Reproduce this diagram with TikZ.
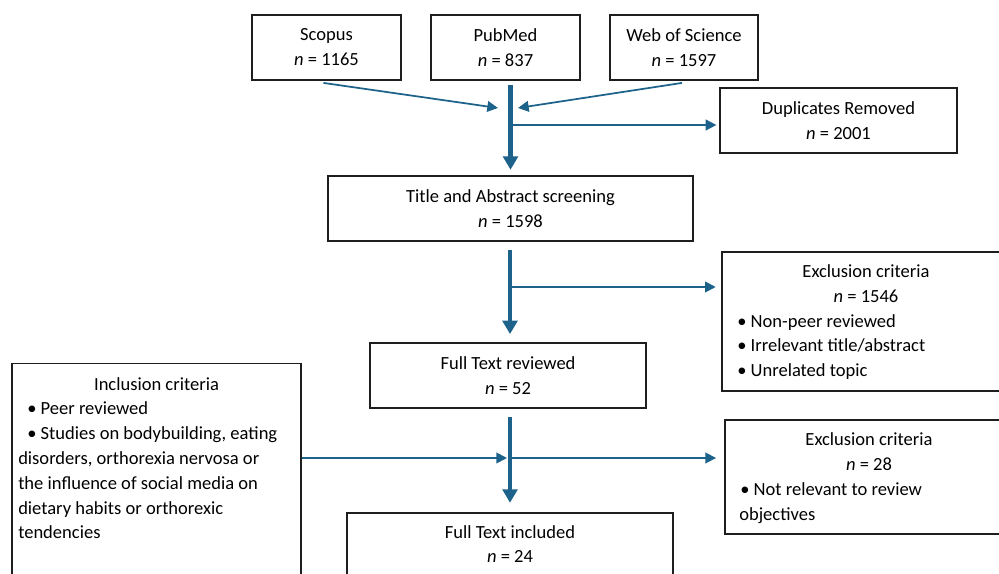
\documentclass[tikz,border=0pt]{standalone}
\usepackage{fontspec}
\setmainfont{Carlito}
\usetikzlibrary{arrows.meta}
\definecolor{arrcol}{RGB}{28,98,138}
\definecolor{boxcol}{RGB}{30,30,30}
\newcommand\figfont{\fontsize{13.9pt}{18.75pt}\selectfont}
\begin{document}
\begin{tikzpicture}[x=0.75pt,y=-0.75pt,
  box/.style 2 args={draw=boxcol, line width=1.4pt, inner sep=0pt, align=center,
    font=\figfont, minimum width={#1*0.75pt}, minimum height={#2*0.75pt}},
  txt/.style={inner sep=0pt, font=\figfont, yshift=-1.8pt},
  thinarrow/.style={draw=arrcol, line width=1.3pt, -{Triangle[length=8pt,width=8pt]}, arrcol},
  thickarrow/.style={draw=arrcol, line width=3.2pt, -{Triangle[length=10pt,width=11pt]}, arrcol}
]
\useasboundingbox (0,0) rectangle (999,574);
\clip (0,0) rectangle (999,574);

% boxes
\node[box={149}{65}] (scopus) at (326.5,47.5) {Scopus\\\textit{n} = 1165};
\node[box={149}{65}] (pubmed) at (505.5,47.5) {PubMed\\\textit{n} = 837};
\node[box={148}{65}] (wos) at (684,47.5) {Web of Science\\\textit{n} = 1597};
\node[box={237}{65}] (dup) at (838.5,120.5) {Duplicates Removed\\\textit{n} = 2001};
\node[box={365}{65}] (title) at (510.5,208.5) {Title and Abstract screening\\\textit{n} = 1598};
\node[box={276}{65}] (ftr) at (508,375.5) {Full Text reviewed\\\textit{n} = 52};
\node[box={288}{139}] (excl1) at (866,321.5) {};
\node[box={288}{114}] (excl2) at (869,477) {};
\node[box={289}{236}] (incl) at (156.5,481.5) {};
\node[box={326}{87}] (fti) at (510,556.5) {};

% texts of the open boxes
\node[txt, anchor=mid] (e1a) at (866,272) {Exclusion criteria};
\node[txt, anchor=mid] (e1b) at (866,297) {\textit{n} = 1546};
\node[txt, anchor=mid west] (e1c) at (737,322) {• Non-peer reviewed};
\node[txt, anchor=mid west] (e1d) at (737,346) {• Irrelevant title/abstract};
\node[txt, anchor=mid west] (e1e) at (737,371) {• Unrelated topic};

\node[txt, anchor=mid] (e2a) at (869,440) {Exclusion criteria};
\node[txt, anchor=mid] (e2b) at (869,465) {\textit{n} = 28};
\node[txt, anchor=mid west] (e2c) at (740,490) {• Not relevant to review};
\node[txt, anchor=mid west] (e2d) at (739,515) {objectives};

\node[txt, anchor=mid] (i1) at (156.5,385) {Inclusion criteria};
\node[txt, anchor=mid west] (i2) at (27,409) {• Peer reviewed};
\node[txt, anchor=mid west] (i3) at (27,434) {• Studies on bodybuilding, eating};
\node[txt, anchor=mid west] (i4) at (18,459) {disorders, orthorexia nervosa or};
\node[txt, anchor=mid west] (i5) at (18,484) {the influence of social media on};
\node[txt, anchor=mid west] (i6) at (18,509) {dietary habits or orthorexic};
\node[txt, anchor=mid west] (i7) at (18,533) {tendencies};

\node[txt, anchor=mid] (f1) at (510,533) {Full Text included};
\node[txt, anchor=mid] (f2) at (510,557) {\textit{n} = 24};

% junction coordinates
\coordinate (s1) at (510.5,85);
\coordinate (m1) at (498,108);
\coordinate (m2) at (518,108);
\coordinate (j1) at (510.5,125);
\coordinate (s2) at (510,250);
\coordinate (j2) at (510,287);
\coordinate (s3) at (510,417);
\coordinate (j3) at (510,458);
\coordinate (m3) at (507,458);

% connectors
\draw[thinarrow] ([shift={(-3,2)}]scopus.south) -- (m1);
\draw[thinarrow] ([shift={(-2,2)}]wos.south) -- (m2);
\draw[thickarrow] (s1) -- (s1 |- title.north) [shorten >=4pt];
\draw[thinarrow] (j1) -- (j1 -| dup.west) [shorten >=2pt];

\draw[thickarrow] (s2) -- (s2 |- ftr.north) [shorten >=6pt];
\draw[thinarrow] (j2) -- (j2 -| excl1.west) [shorten >=4pt];

\draw[thickarrow] (s3) -- (s3 |- fti.north) [shorten >=7pt];
\draw[thinarrow] (incl.east |- m3) -- (m3);
\draw[thinarrow] (j3) -- (j3 -| excl2.west) [shorten >=6pt];
\end{tikzpicture}
\end{document}
